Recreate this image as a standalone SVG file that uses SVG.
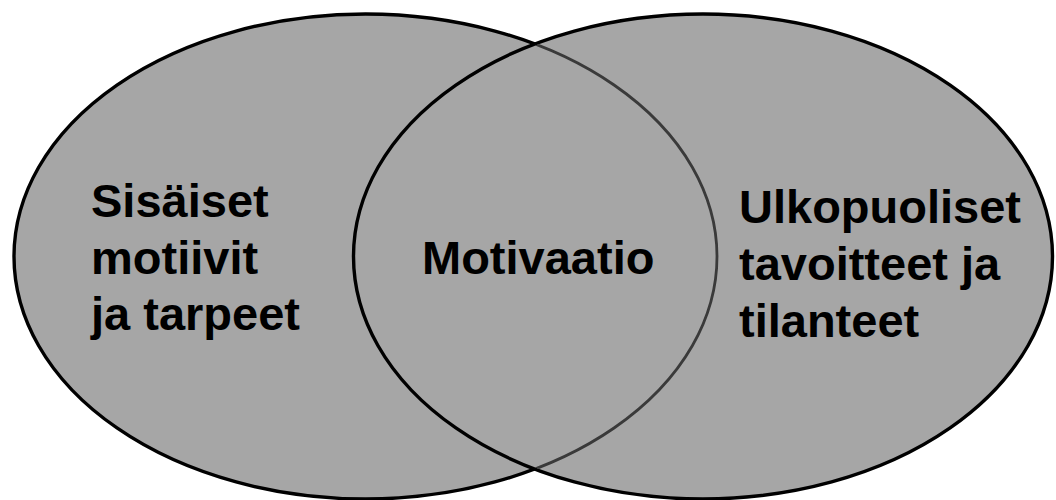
<svg xmlns="http://www.w3.org/2000/svg" width="1056" height="500" viewBox="0 0 1056 500">
<style>
.set{fill:#a6a6a6;stroke:#000;stroke-width:3.4}
.inner{fill:none;stroke:#3a3a3a;stroke-width:2.8}
.lbl{font-family:"Liberation Sans",Arial,sans-serif;font-weight:bold;font-size:47px;fill:#000}
</style>
<defs>
<clipPath id="rightClip"><ellipse cx="703" cy="256.5" rx="348" ry="241"/></clipPath>
</defs>
<rect width="1056" height="500" fill="#fff"/>
<g id="left-set">
<ellipse class="set" cx="365.5" cy="256.5" rx="351.5" ry="242.5"/>
</g>
<g id="right-set">
<ellipse class="set" cx="703" cy="256.5" rx="349.5" ry="242.5"/>
</g>
<g id="connectors">
<ellipse class="inner" cx="365.5" cy="256.5" rx="351.5" ry="242.5" clip-path="url(#rightClip)"/>
</g>
<g id="label-left">
<text class="lbl" x="91" y="217">Sisäiset</text>
<text class="lbl" x="91" y="273.5">motiivit</text>
<text class="lbl" x="91" y="330">ja tarpeet</text>
</g>
<g id="label-center">
<text class="lbl" x="422" y="274">Motivaatio</text>
</g>
<g id="label-right">
<text class="lbl" x="739" y="223">Ulkopuoliset</text>
<text class="lbl" x="739" y="280">tavoitteet ja</text>
<text class="lbl" x="739" y="337">tilanteet</text>
</g>
</svg>
